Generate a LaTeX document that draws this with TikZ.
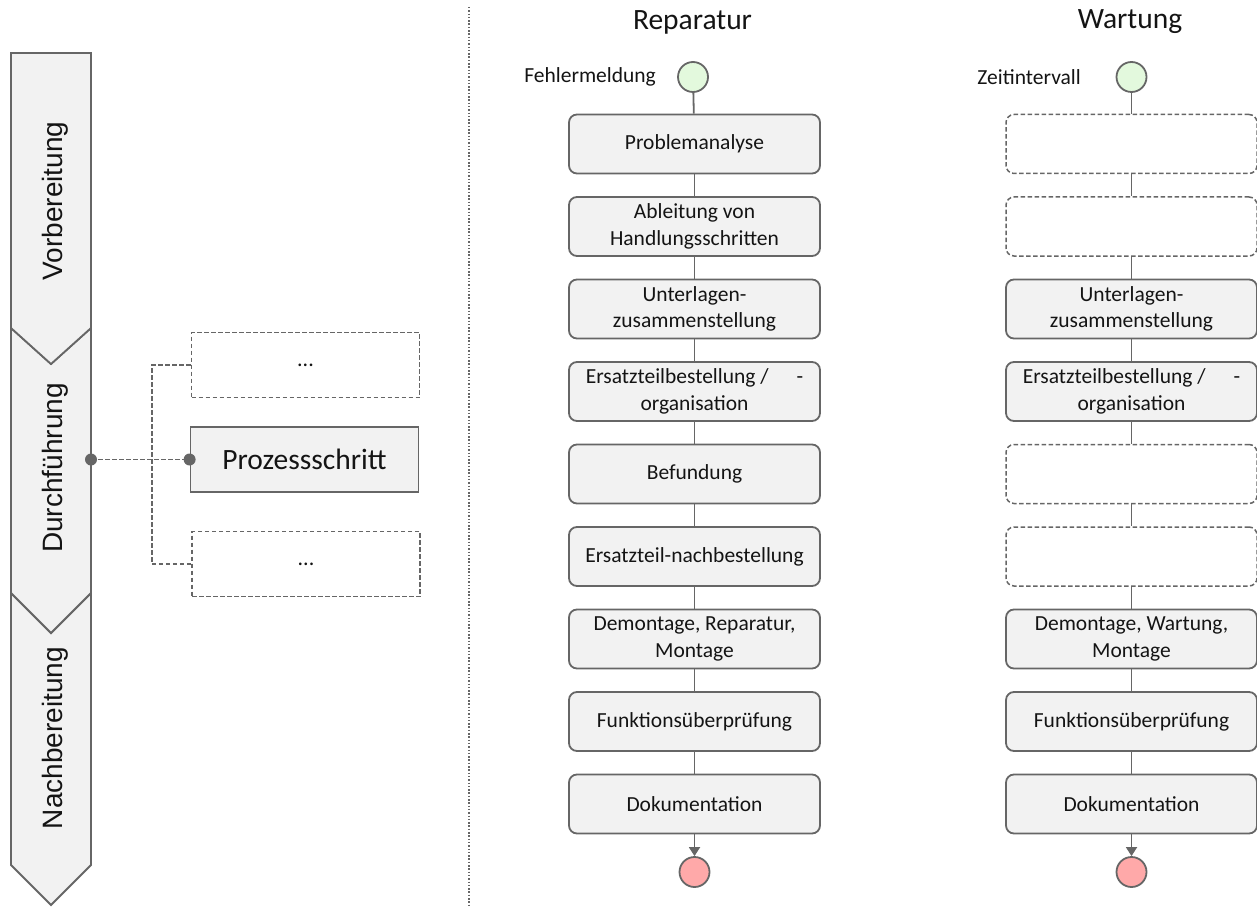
\documentclass[tikz,border=0pt]{standalone}
\usepackage{fontspec}
\setmainfont{Carlito}
\newfontfamily\phasefont{Liberation Sans}
\usetikzlibrary{arrows.meta}

\definecolor{edgegray}{HTML}{666666}
\definecolor{boxfill}{HTML}{F2F2F2}
\definecolor{startfill}{HTML}{E3F9DD}
\definecolor{endfill}{HTML}{FFA9A9}
\definecolor{txt}{HTML}{141414}

\tikzset{
  stepbox/.style={draw=edgegray, line width=1.8pt, fill=boxfill, rounded corners=8pt,
    minimum width=251pt, minimum height=59pt, inner sep=2pt, align=center,
    text=txt, font=\fontsize{21.5}{26.5}\selectfont},
  ghostbox/.style={stepbox, fill=none, line width=1.5pt, dash pattern=on 4.5pt off 2.5pt},
  startnode/.style={circle, draw=edgegray, line width=1.8pt, fill=startfill, minimum size=30pt, inner sep=0pt},
  endnode/.style={circle, draw=edgegray, line width=1.8pt, fill=endfill, minimum size=30pt, inner sep=0pt},
  flow/.style={draw=edgegray, line width=1.8pt},
  flowend/.style={flow, -{Triangle[length=9pt,width=11pt]}},
  sidelabel/.style={anchor=east, inner sep=0pt, text=txt, font=\fontsize{21.5}{26}\selectfont},
  coltitle/.style={inner sep=0pt, text=txt, font=\fontsize{29.5}{34}\selectfont},
  phase/.style={draw=edgegray, line width=1.8pt, fill=boxfill},
  phaselabel/.style={rotate=90, inner sep=0pt, text=txt, font=\phasefont\fontsize{28}{32}\selectfont},
  legendbox/.style={draw=edgegray, line width=1.8pt, minimum width=228pt, minimum height=65pt,
    text=txt, font=\fontsize{29.5}{34}\selectfont},
  legendghost/.style={legendbox, line width=1.5pt, dash pattern=on 4.5pt off 2.5pt, font=\fontsize{22}{26}\selectfont},
  legendlink/.style={draw=edgegray, line width=1.5pt, dash pattern=on 4.5pt off 2.5pt},
  dot/.style={circle, fill=edgegray, minimum size=12pt, inner sep=0pt}
}

\begin{document}
\begin{tikzpicture}[x=1pt, y=-1pt]
\useasboundingbox (0,0) rectangle (1257,909);

% ---- phase chevrons ----
\draw[phase] (11,593) -- (51,633) -- (91,593) -- (91,865) -- (51,905) -- (11,865) -- cycle;
\draw[phase] (11,328) -- (51,364) -- (91,328) -- (91,593) -- (51,633) -- (11,593) -- cycle;
\draw[phase] (11,53) -- (91,53) -- (91,328) -- (51,364) -- (11,328) -- cycle;
\node[phaselabel] (vor) at (55,201) {Vorbereitung};
\node[phaselabel] (durch) at (55,468) {Durchführung};
\node[phaselabel] (nach) at (55,738) {Nachbereitung};

% ---- process step legend ----
\node[legendghost] (ghostA) at (305.5,365) {...};
\node[legendbox, fill=boxfill] (pstep) at (304.5,459.5) {Prozessschritt};
\node[legendghost] (ghostB) at (306,564) {...};
\coordinate (phasedot) at (91,459.5);

\draw[legendlink] (ghostA.west) -- ++(-39,0) |- (ghostB.west);
\draw[legendlink] (phasedot) -- (pstep.west);
\node[dot] (dotL) at (phasedot) {};
\node[dot] (dotR) at (pstep.west) {};

% ---- separator ----
\draw[edgegray, line width=1.2pt, dash pattern=on 1.5pt off 1.8pt] (469,7) -- (469,905);

% ---- Reparatur ----
\node[coltitle] (repT) at (692.5,22) {Reparatur};
\node[startnode] (rS) at (693,77) {};
\node[sidelabel] (rSL) at (656,77) {Fehlermeldung};
\node[stepbox] (r1) at (694.5,144) {Problemanalyse};
\node[stepbox] (r2) at (694.5,226.5) {Ableitung von\\Handlungsschritten};
\node[stepbox] (r3) at (694.5,309) {Unterlagen-\\zusammenstellung};
\node[stepbox] (r4) at (694.5,391.5) {Ersatzteilbestellung /\hspace{1.3em}-\\organisation};
\node[stepbox] (r5) at (694.5,474) {Befundung};
\node[stepbox] (r6) at (694.5,556.5) {Ersatzteil-nachbestellung};
\node[stepbox] (r7) at (694.5,639) {Demontage, Reparatur,\\Montage};
\node[stepbox] (r8) at (694.5,721.5) {Funktionsüberprüfung};
\node[stepbox] (r9) at (694.5,804) {Dokumentation};
\node[endnode] (rE) at (694.5,872) {};

\draw[flow] (rS) -- (r1);
\foreach \a/\b in {r1/r2, r2/r3, r3/r4, r4/r5, r5/r6, r6/r7, r7/r8, r8/r9}
  \draw[flow] (\a) -- (\b);
\draw[flowend] (r9) -- (rE);

% ---- Wartung ----
\node[coltitle] (warT) at (1130,22) {Wartung};
\node[startnode] (wS) at (1131.5,77) {};
\node[sidelabel] (wSL) at (1081,77) {Zeitintervall};
\node[ghostbox] (w1) at (1131.5,144) {};
\node[ghostbox] (w2) at (1131.5,226.5) {};
\node[stepbox] (w3) at (1131.5,309) {Unterlagen-\\zusammenstellung};
\node[stepbox] (w4) at (1131.5,391.5) {Ersatzteilbestellung /\hspace{1.3em}-\\organisation};
\node[ghostbox] (w5) at (1131.5,474) {};
\node[ghostbox] (w6) at (1131.5,556.5) {};
\node[stepbox] (w7) at (1131.5,639) {Demontage, Wartung,\\Montage};
\node[stepbox] (w8) at (1131.5,721.5) {Funktionsüberprüfung};
\node[stepbox] (w9) at (1131.5,804) {Dokumentation};
\node[endnode] (wE) at (1131.5,872) {};

\draw[flow] (wS) -- (w1);
\foreach \a/\b in {w1/w2, w2/w3, w3/w4, w4/w5, w5/w6, w6/w7, w7/w8, w8/w9}
  \draw[flow] (\a) -- (\b);
\draw[flowend] (w9) -- (wE);
\end{tikzpicture}
\end{document}
